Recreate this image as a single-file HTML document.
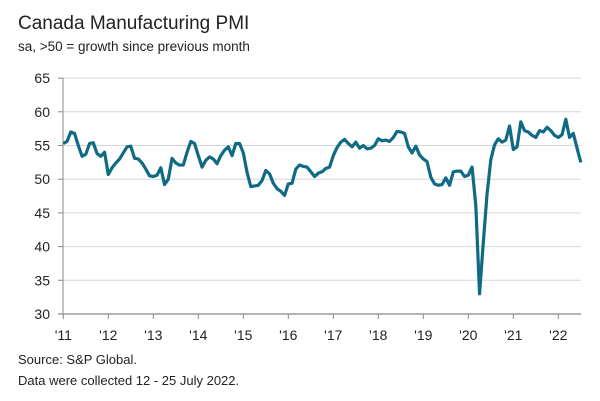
<!DOCTYPE html>
<html><head><meta charset="utf-8"><style>
html,body{margin:0;padding:0;background:#fff;}
svg{display:block;font-family:"Liberation Sans",sans-serif;}
</style></head><body>
<svg width="600" height="401" viewBox="0 0 600 401">
<text x="18" y="29" font-size="19" fill="#222">Canada Manufacturing PMI</text>
<text x="18" y="51" font-size="13.5" fill="#222">sa, &gt;50 = growth since previous month</text>
<g id="grid"></g>
<g id="axes"></g>
<path id="line" fill="none" stroke="#0f6b84" stroke-width="3.2" stroke-linejoin="round"></path>
<text x="18" y="364" font-size="13" fill="#222">Source: S&amp;P Global.</text>
<text x="18" y="385" font-size="13" fill="#222">Data were collected 12 - 25 July 2022.</text>
</svg>
<script>
const yTicks=[30,35,40,45,50,55,60,65];
const xLabels=["'11","'12","'13","'14","'15","'16","'17","'18","'19","'20","'21","'22"];
const startYear=2011;
const pmi=[
55.3,55.6,57,56.8,55,53.4,53.7,55.3,55.4,53.8,53.4,54.0,
50.7,51.7,52.4,53,53.9,54.8,54.9,53.1,53,52.4,51.5,50.5,
50.4,50.6,51.7,49.2,50,53.1,52.4,52.1,52.1,54,55.6,55.3,
53.5,51.8,52.8,53.3,53,52.3,53.5,54.3,54.8,53.5,55.3,55.3,
53.9,51,48.9,49,49.1,49.8,51.3,50.8,49.4,48.6,48.2,47.6,
49.3,49.4,51.5,52.1,51.9,51.8,51.1,50.4,50.9,51.1,51.6,51.8,
53.5,54.7,55.5,55.9,55.3,54.8,55.5,54.6,55,54.5,54.6,55,
56,55.7,55.8,55.6,56.2,57.1,57,56.8,54.8,53.9,54.9,53.6,
53,52.6,50.3,49.3,49.1,49.2,50.2,49.1,51.1,51.2,51.2,50.4,
50.6,51.8,46.1,33,40.6,47.8,52.9,55.1,56,55.5,55.8,57.9,
54.4,54.8,58.5,57.2,57,56.5,56.2,57.2,57,57.7,57.2,56.5,
56.2,56.6,58.9,56.2,56.8,54.6,52.5];
const NS="http://www.w3.org/2000/svg";
const x0=63.3, pxPerMonth=3.75, yBase=314, pxPerUnit=33.7/5;
function xs(m){return x0+m*pxPerMonth;}
function ys(v){return yBase-(v-30)*pxPerUnit;}
function mk(tag,attrs,parent){const e=document.createElementNS(NS,tag);for(const k in attrs)e.setAttribute(k,attrs[k]);parent.appendChild(e);return e;}
const grid=document.getElementById('grid'), axes=document.getElementById('axes');
yTicks.forEach(t=>{
  const y=ys(t);
  if(t>30){const g=mk('line',{x1:63,x2:581,y1:y,y2:y,stroke:'#d6d6d6','stroke-width':1},grid);
  
  }
  const tk=mk('line',{x1:58,x2:63,y1:y,y2:y,stroke:'#888','stroke-width':1},axes);
  
  
  const lb=mk('text',{x:50,y:y+5,'font-size':14,fill:'#222','text-anchor':'end'},axes);
  lb.textContent=t;
  
  
});
const ya=mk('line',{x1:63,x2:63,y1:ys(65),y2:yBase,stroke:'#888','stroke-width':1},axes);


const xa=mk('line',{x1:58,x2:581,y1:yBase,y2:yBase,stroke:'#888','stroke-width':1.2},axes);


xLabels.forEach((l,i)=>{
  const x=xs(i*12);
  const tk=mk('line',{x1:x,x2:x,y1:yBase,y2:yBase+5,stroke:'#888','stroke-width':1},axes);
  
  
  const lb=mk('text',{x:x,y:340,'font-size':14,fill:'#222','text-anchor':'middle'},axes);
  lb.textContent=l;
  
  
});
document.getElementById('line').setAttribute('d',pmi.map((v,i)=>(i?'L':'M')+xs(i).toFixed(2)+','+ys(v).toFixed(2)).join(''));
</script>
</body></html>
